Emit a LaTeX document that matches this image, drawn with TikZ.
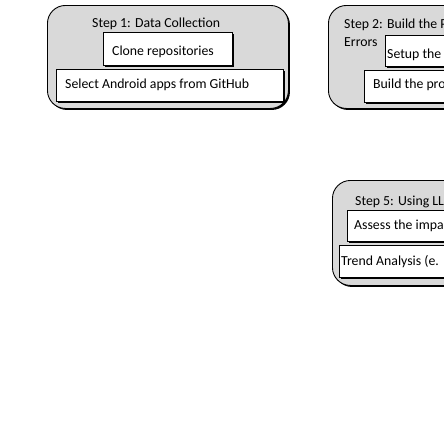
\documentclass[tikz,border=0pt]{standalone}
\usepackage{fontspec}
\setmainfont{Carlito}
\usetikzlibrary{shadows}
\definecolor{stepgray}{HTML}{D9D9D9}
\begin{document}
\begin{tikzpicture}[x=1pt,y=-1pt,
  stepbox/.style={draw=black, line width=0.9pt, fill=stepgray, rounded corners=18pt,
    general shadow={fill=black, shadow xshift=1.5pt, shadow yshift=-1.5pt},
    inner sep=0pt, anchor=north west},
  itembox/.style={draw=black, line width=0.9pt, fill=white,
    general shadow={fill=black, shadow xshift=1.5pt, shadow yshift=-1.5pt},
    inner sep=0pt, anchor=north west},
  lbl/.style={anchor=base west, inner sep=0pt, font=\fontsize{13.8}{18}\selectfont}]
\useasboundingbox (0,0) rectangle (444,437);
\clip (0,0) rectangle (444,437);
% Step 1
\node[stepbox, minimum width=241pt, minimum height=103pt] (s1) at (47,5) {};
\node[lbl] (s1t) at (92,27) {Step 1: Data Collection};
\node[itembox, minimum width=129pt, minimum height=33pt] (clone) at (103,32) {};
\node[lbl] (clonet) at (112,55) {Clone repositories};
\node[itembox, minimum width=227pt, minimum height=32pt] (select) at (56,69) {};
\node[lbl] (selectt) at (65,88) {Select Android apps from GitHub};
% Step 2
\node[stepbox, minimum width=150pt, minimum height=103pt] (s2) at (328,5) {};
\node[lbl] (s2t) at (344,28) {Step 2: Build the P};
\node[lbl] (s2e) at (344,46) {Errors};
\node[itembox, minimum width=80pt, minimum height=31pt] (setup) at (385,35) {};
\node[lbl] (setupt) at (387,58) {Setup the};
\node[itembox, minimum width=100pt, minimum height=32pt] (build) at (364,70) {};
\node[lbl] (buildt) at (373,88) {Build the pro};
% Step 5
\node[stepbox, minimum width=150pt, minimum height=105pt] (s5) at (332,180) {};
\node[lbl] (s5t) at (355,205) {Step 5: Using LL};
\node[itembox, minimum width=100pt, minimum height=31pt] (assess) at (347,210) {};
\node[lbl] (assesst) at (354,229) {Assess the impa};
\node[itembox, minimum width=110pt, minimum height=32pt] (trend) at (339,245) {};
\node[lbl] (trendt) at (341,265) {Trend Analysis (e.};
\end{tikzpicture}
\end{document}
